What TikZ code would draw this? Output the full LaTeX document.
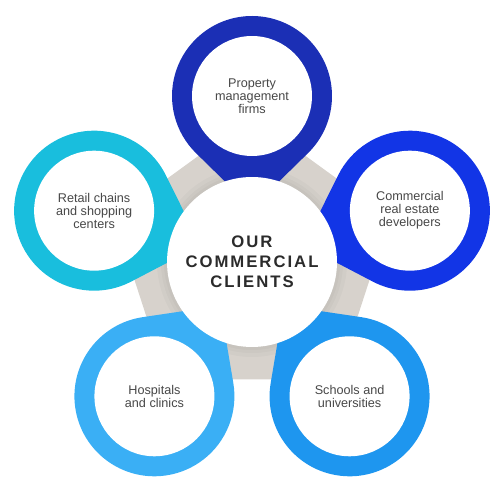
\documentclass[tikz,border=0pt]{standalone}
\usepackage{fontspec}
\setmainfont{Liberation Sans}
\newfontfamily\titlefont[LetterSpace=12]{Liberation Sans}
\usetikzlibrary{calc}

\definecolor{bandgray}{HTML}{D7D2CC}
\definecolor{pintop}{HTML}{1B2FB5}
\definecolor{pinright}{HTML}{1235E6}
\definecolor{pinleft}{HTML}{19BEDD}
\definecolor{pinlowleft}{HTML}{3AAFF5}
\definecolor{pinlowright}{HTML}{1E96EF}
\definecolor{labelgray}{HTML}{484848}
\definecolor{titlegray}{HTML}{2B2B2B}

\begin{document}
\begin{tikzpicture}[x=0.02cm,y=0.02cm]
	\useasboundingbox (0,0) rectangle (500,489);

	\coordinate (hub) at (252,227);

	% grey band behind everything
	\fill[bandgray] ($(hub)+(90:145)$) -- ($(hub)+(162:145)$) -- ($(hub)+(234:145)$)
		-- ($(hub)+(306:145)$) -- ($(hub)+(18:145)$) -- cycle;
	\fill[black,opacity=0.025] (hub) circle[radius=95];
	\fill[black,opacity=0.025] (hub) circle[radius=91];
	\fill[black,opacity=0.025] (hub) circle[radius=88];

	% pins, tip hidden under the hub
	\fill[pintop] ($(hub)+(90:54)$) -- ($(hub)+(90:166)+(314.4:80)$)
		arc[start angle=314.4, end angle=585.6, radius=80] -- cycle;
	\fill[pinleft] ($(hub)+(162:54)$) -- ($(hub)+(162:166)+(386.4:80)$)
		arc[start angle=386.4, end angle=657.6, radius=80] -- cycle;
	\fill[pinright] ($(hub)+(18:54)$) -- ($(hub)+(18:166)+(242.4:80)$)
		arc[start angle=242.4, end angle=513.6, radius=80] -- cycle;
	\fill[pinlowleft] ($(hub)+(234:54)$) -- ($(hub)+(234:166)+(458.4:80)$)
		arc[start angle=458.4, end angle=729.6, radius=80] -- cycle;
	\fill[pinlowright] ($(hub)+(306:54)$) -- ($(hub)+(306:166)+(530.4:80)$)
		arc[start angle=530.4, end angle=801.6, radius=80] -- cycle;

	\begin{scope}[every node/.style={circle,fill=white,inner sep=0pt,
		minimum size=2.4cm,align=center,text=labelgray,
		font=\fontsize{7.2}{7.4}\selectfont}]
		\node (property) at ($(hub)+(90:166)$) {Property\\management\\firms};
		\node (retail) at ($(hub)+(162:166)$) {Retail chains\\and shopping\\centers};
		\node (developers) at ($(hub)+(18:166)$) {Commercial\\real estate\\developers};
		\node (hospitals) at ($(hub)+(234:166)$) {Hospitals\\and clinics};
		\node (schools) at ($(hub)+(306:166)$) {Schools and\\universities};
	\end{scope}

	\node[circle,fill=white,inner sep=0pt,minimum size=3.4cm,align=center,
		text=titlegray,font=\titlefont\bfseries\fontsize{9.5}{11.3}\selectfont]
		(clients) at (hub) {OUR\\COMMERCIAL\\CLIENTS};
\end{tikzpicture}
\end{document}
